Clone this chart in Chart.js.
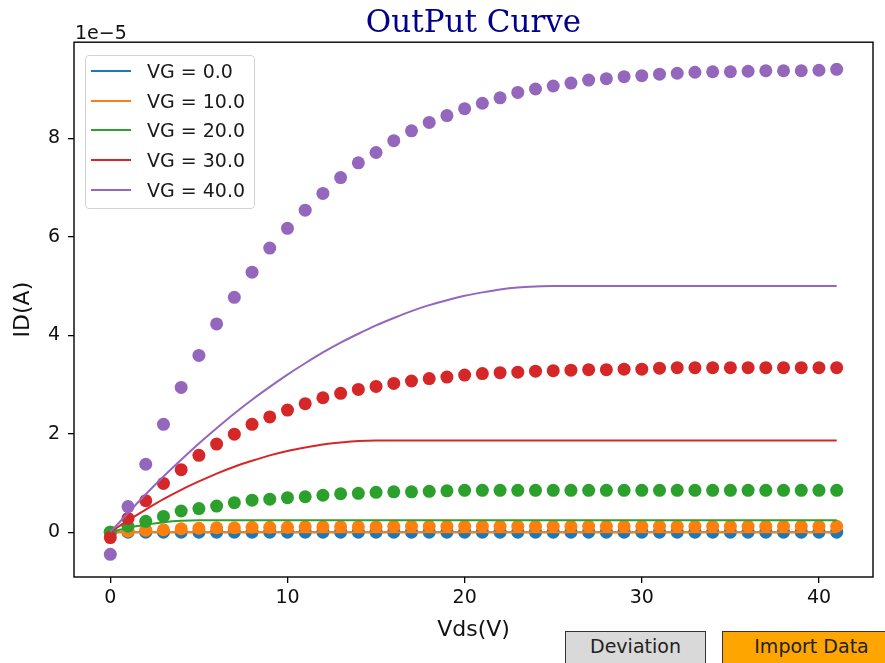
<!DOCTYPE html>
<html>
<head>
<meta charset="utf-8">
<title>OutPut Curve</title>
<script src="https://cdn.jsdelivr.net/npm/chart.js@4.4.1/dist/chart.umd.min.js"></script>
<style>
  html, body { margin: 0; padding: 0; background: #fff; overflow: hidden; }
  #wrap { position: relative; width: 885px; height: 663px; }
  #chart { position: absolute; left: 0; top: 0; }
  .legend { position: absolute; left: 85px; top: 55px; width: 168px; height: 152px;
    border: 1px solid #d3d3d3; border-radius: 4px; background: rgba(255,255,255,0.8);
    font: 19px "DejaVu Sans"; color: #1a1a1a; }
  .legend .row { position: absolute; left: 0; width: 168px; height: 30px; line-height: 30px; }
  .legend .swatch { position: absolute; left: 5px; top: 14px; width: 40px; height: 2px; }
  .legend .lbl { position: absolute; left: 61px; top: 0; white-space: nowrap; }
  .btn { position: absolute; top: 631px; height: 40px; border: 1px solid #333;
    font: 19px "DejaVu Sans"; color: #222; text-align: center; line-height: 28px; }
</style>
</head>
<body>
<div id="wrap">
  <canvas id="chart" width="885" height="663"></canvas>
  <div class="legend" id="legend"></div>
  <div class="btn" style="left:565px; width:139px; background:#d9d9d9;">Deviation</div>
  <div class="btn" style="left:722px; width:177px; background:#ffa500;">Import Data</div>
</div>
<script>
// Vds sweep (V)
const vds = [0, 1, 2, 3, 4, 5, 6, 7, 8, 9,
  10, 11, 12, 13, 14, 15, 16, 17, 18, 19,
  20, 21, 22, 23, 24, 25, 26, 27, 28, 29,
  30, 31, 32, 33, 34, 35, 36, 37, 38, 39,
  40, 41];

const vgLabels = ["VG = 0.0", "VG = 10.0", "VG = 20.0", "VG = 30.0", "VG = 40.0"];
const colors = ["#1f77b4", "#ff7f0e", "#2ca02c", "#d62728", "#9467bd"];

// measured ID, in units of 1e-5 A (scatter)
const meas0 = [0, 0, 0, 0, 0, 0, 0, 0, 0, 0,
  0, 0, 0, 0, 0, 0, 0, 0, 0, 0,
  0, 0, 0, 0, 0, 0, 0, 0, 0, 0,
  0, 0, 0, 0, 0, 0, 0, 0, 0, 0,
  0, 0];
const meas10 = [0, 0.02, 0.04, 0.05, 0.07, 0.08, 0.09, 0.09, 0.10, 0.10,
  0.10, 0.11, 0.11, 0.11, 0.11, 0.11, 0.12, 0.12, 0.12, 0.12,
  0.12, 0.12, 0.12, 0.12, 0.12, 0.12, 0.12, 0.12, 0.12, 0.12,
  0.12, 0.12, 0.12, 0.12, 0.12, 0.12, 0.12, 0.12, 0.12, 0.12,
  0.12, 0.12];
const meas20 = [0, 0.12, 0.22, 0.32, 0.43, 0.48, 0.53, 0.60, 0.65, 0.67,
  0.70, 0.72, 0.75, 0.78, 0.79, 0.81, 0.82, 0.82, 0.83, 0.84,
  0.85, 0.85, 0.85, 0.85, 0.85, 0.85, 0.85, 0.85, 0.85, 0.85,
  0.85, 0.85, 0.85, 0.85, 0.85, 0.85, 0.85, 0.85, 0.85, 0.85,
  0.85, 0.85];
const meas30 = [-0.11, 0.28, 0.64, 0.99, 1.27, 1.56, 1.79, 1.99, 2.19, 2.34,
  2.48, 2.61, 2.73, 2.82, 2.90, 2.96, 3.02, 3.07, 3.12, 3.15,
  3.19, 3.22, 3.24, 3.25, 3.27, 3.28, 3.29, 3.30, 3.30, 3.31,
  3.31, 3.33, 3.34, 3.34, 3.34, 3.34, 3.34, 3.34, 3.34, 3.34,
  3.34, 3.34];
const meas40 = [-0.45, 0.52, 1.38, 2.19, 2.94, 3.59, 4.23, 4.77, 5.28, 5.77,
  6.17, 6.54, 6.88, 7.20, 7.50, 7.71, 7.95, 8.15, 8.32, 8.46,
  8.60, 8.71, 8.82, 8.93, 9.00, 9.06, 9.12, 9.18, 9.21, 9.25,
  9.27, 9.30, 9.32, 9.34, 9.35, 9.35, 9.36, 9.37, 9.37, 9.37,
  9.38, 9.40];

// model ID, in units of 1e-5 A (lines)
const fit0 = [0, 0, 0, 0, 0, 0, 0, 0, 0, 0,
  0, 0, 0, 0, 0, 0, 0, 0, 0, 0,
  0, 0, 0, 0, 0, 0, 0, 0, 0, 0,
  0, 0, 0, 0, 0, 0, 0, 0, 0, 0,
  0, 0];
const fit10 = [0, 0, 0, 0, 0, 0, 0, 0, 0, 0,
  0, 0, 0, 0, 0, 0, 0, 0, 0, 0,
  0, 0, 0, 0, 0, 0, 0, 0, 0, 0,
  0, 0, 0, 0, 0, 0, 0, 0, 0, 0,
  0, 0];
const fit20 = [0, 0.09, 0.15, 0.20, 0.23, 0.24, 0.24, 0.24, 0.24, 0.24,
  0.24, 0.24, 0.24, 0.24, 0.24, 0.24, 0.24, 0.24, 0.24, 0.24,
  0.24, 0.24, 0.24, 0.24, 0.24, 0.24, 0.24, 0.24, 0.24, 0.24,
  0.24, 0.24, 0.24, 0.24, 0.24, 0.24, 0.24, 0.24, 0.24, 0.24,
  0.24, 0.24];
const fit30 = [0, 0.24, 0.46, 0.67, 0.86, 1.03, 1.19, 1.33, 1.45, 1.56,
  1.65, 1.72, 1.78, 1.82, 1.85, 1.86, 1.86, 1.86, 1.86, 1.86,
  1.86, 1.86, 1.86, 1.86, 1.86, 1.86, 1.86, 1.86, 1.86, 1.86,
  1.86, 1.86, 1.86, 1.86, 1.86, 1.86, 1.86, 1.86, 1.86, 1.86,
  1.86, 1.86];
const fit40 = [0, 0.39, 0.77, 1.13, 1.47, 1.80, 2.11, 2.41, 2.69, 2.95,
  3.20, 3.43, 3.65, 3.85, 4.03, 4.20, 4.35, 4.49, 4.61, 4.71,
  4.80, 4.87, 4.93, 4.97, 4.99, 5.00, 5.00, 5.00, 5.00, 5.00,
  5.00, 5.00, 5.00, 5.00, 5.00, 5.00, 5.00, 5.00, 5.00, 5.00,
  5.00, 5.00];

const xTicks = [0, 10, 20, 30, 40];
const yTicks = [0, 2, 4, 6, 8];

const measured = [meas0, meas10, meas20, meas30, meas40];
const fitted = [fit0, fit10, fit20, fit30, fit40];

function pts(ys) {
  return vds.map((x, i) => ({ x: x, y: ys[i] }));
}

// scatter then line for each VG, later ones drawn on top
const datasets = [];
for (let i = 0; i < 5; i++) {
  datasets.push({
    data: pts(measured[i]),
    backgroundColor: colors[i],
    borderWidth: 0,
    pointRadius: 6.5,
    showLine: false,
    order: 20 - 2 * i
  });
  datasets.push({
    label: vgLabels[i],
    data: pts(fitted[i]),
    borderColor: colors[i],
    borderWidth: 2,
    pointRadius: 0,
    showLine: true,
    cubicInterpolationMode: 'monotone',
    order: 19 - 2 * i
  });
}

// legend (lines only, like the original)
const legend = document.getElementById('legend');
vgLabels.forEach((txt, i) => {
  const row = document.createElement('div');
  row.className = 'row';
  row.style.top = (i * 29.65) + 'px';
  row.innerHTML = '<div class="swatch" style="background:' + colors[i] + '"></div>' +
    '<span class="lbl">' + txt + '</span>';
  legend.appendChild(row);
});

// box around plot + offset text
const frame = {
  id: 'frame',
  afterDraw(chart) {
    const { ctx, chartArea: a } = chart;
    ctx.save();
    ctx.strokeStyle = '#000';
    ctx.lineWidth = 1.4;
    ctx.strokeRect(a.left, a.top, a.right - a.left, a.bottom - a.top);
    ctx.font = '19px "DejaVu Sans"';
    ctx.fillStyle = '#111';
    ctx.textBaseline = 'alphabetic';
    ctx.textAlign = 'left';
    ctx.fillText('1e\u22125', a.left + 1, a.top - 3);
    ctx.restore();
  }
};

const tickFont = { family: 'DejaVu Sans', size: 19 };
const axisFont = { family: 'DejaVu Sans', size: 22 };

new Chart(document.getElementById('chart'), {
  type: 'scatter',
  data: { datasets: datasets },
  options: {
    responsive: false,
    animation: false,
    events: [],
    layout: { padding: { left: 0, right: 12, top: 0, bottom: 0 } },
    plugins: {
      legend: { display: false },
      tooltip: { enabled: false },
      title: {
        display: true,
        text: 'OutPut Curve',
        fullSize: false,
        color: '#00008b',
        font: { family: 'DejaVu Serif', size: 31, weight: 'normal' },
        padding: { top: 5, bottom: 0 }
      }
    },
    scales: {
      x: {
        type: 'linear',
        min: -2.05,
        max: 43.05,
        afterBuildTicks: s => { s.ticks = xTicks.map(v => ({ value: v })); },
        afterFit: s => { s.height = 86; },
        border: { display: false },
        grid: { drawOnChartArea: false, drawTicks: true, tickLength: 6, color: '#000', lineWidth: 1.3 },
        ticks: { font: tickFont, color: '#111', padding: 4, maxRotation: 0 },
        title: { display: true, text: 'Vds(V)', font: axisFont, color: '#111', padding: { top: 0, bottom: 20 } }
      },
      y: {
        type: 'linear',
        min: -0.91,
        max: 9.95,
        afterBuildTicks: s => { s.ticks = yTicks.map(v => ({ value: v })); },
        afterFit: s => { s.width = 74; },
        border: { display: false },
        grid: { drawOnChartArea: false, drawTicks: true, tickLength: 6, color: '#000', lineWidth: 1.3 },
        ticks: { font: tickFont, color: '#111', padding: 8 },
        title: { display: true, text: 'ID(A)', font: axisFont, color: '#111', padding: { top: 10, bottom: 0 } }
      }
    }
  },
  plugins: [frame]
});
</script>
</body>
</html>
